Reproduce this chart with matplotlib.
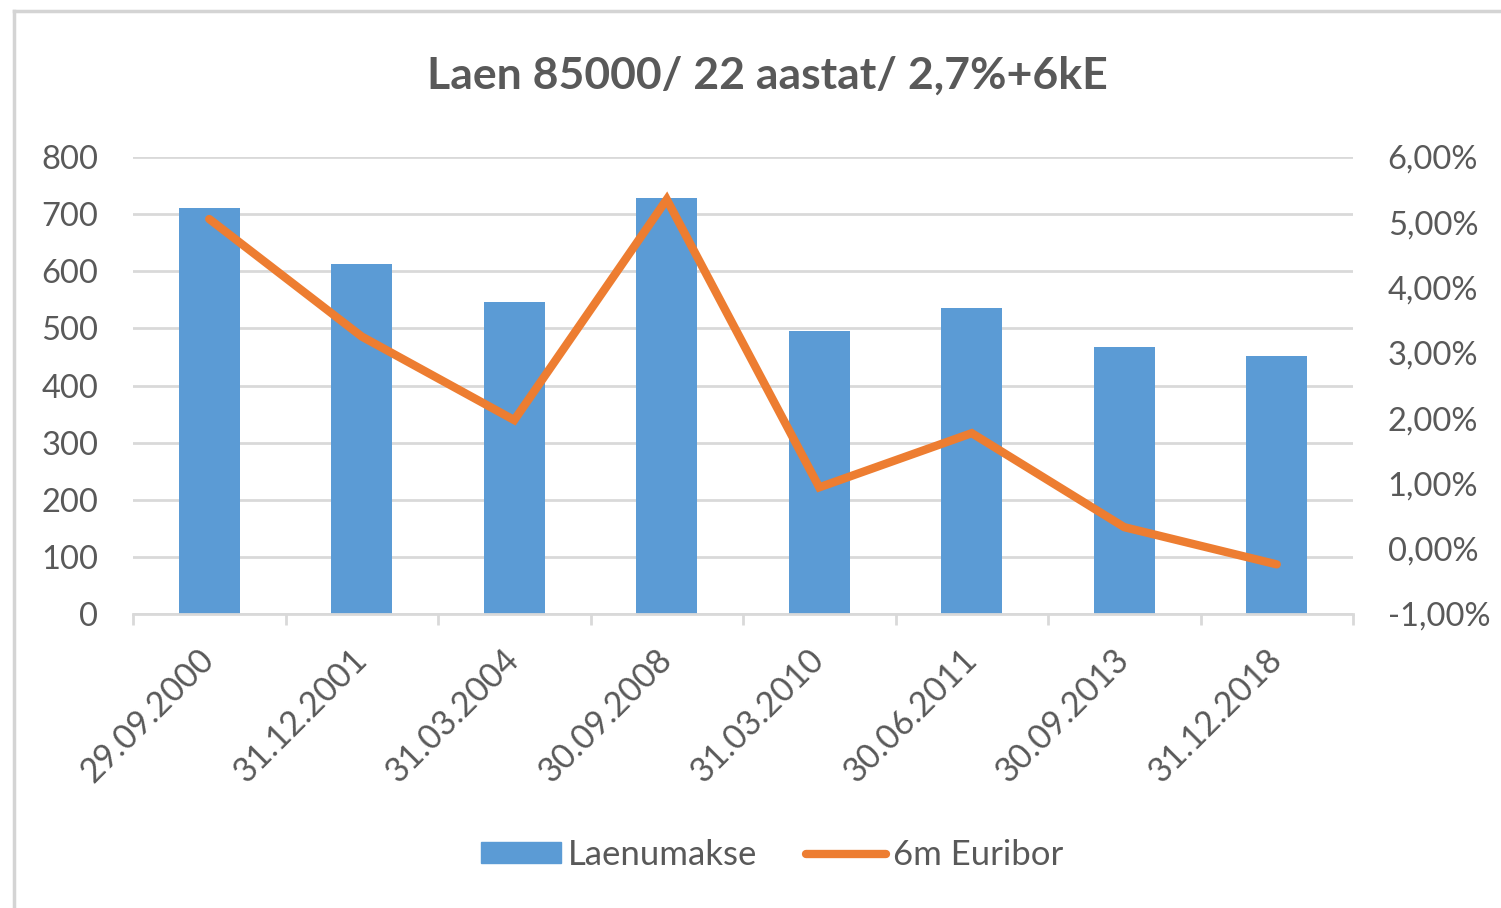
import matplotlib.pyplot as plt
from matplotlib.lines import Line2D
from matplotlib.patches import Patch
from matplotlib.ticker import FuncFormatter, FixedLocator

plt.rcParams['font.family'] = ['Lato', 'DejaVu Sans']

# data
dates = ['29.09.2000', '31.12.2001', '31.03.2004', '30.09.2008',
         '31.03.2010', '30.06.2011', '30.09.2013', '31.12.2018']
payment = [711, 613, 546, 729, 496, 535, 468, 451]
euribor = [5.05, 3.25, 1.97, 5.35, 0.94, 1.77, 0.33, -0.24]

blue = '#5B9BD5'
orange = '#ED7D31'
grid_col = '#D9D9D9'
text_col = '#595959'

fig = plt.figure(figsize=(15.01, 9.08), dpi=100)
ax = fig.add_axes([133/1501, 1 - 614/908, (1353 - 133)/1501, (614 - 157)/908])
ax2 = ax.twinx()

x = list(range(len(dates)))
ax.bar(x, payment, width=0.4, color=blue, zorder=2)
ax2.plot(x, euribor, color=orange, lw=6, solid_capstyle='round',
         solid_joinstyle='miter', zorder=3)

ax.set_xlim(-0.5, len(dates) - 0.5)
ax.set_ylim(0, 800)
ax.set_yticks(range(0, 801, 100))
ax2.set_ylim(-1, 6)
ax2.set_yticks(range(-1, 7))
ax2.yaxis.set_major_formatter(FuncFormatter(lambda v, p: f'{v:.2f}%'.replace('.', ',')))

ax.grid(axis='y', color=grid_col, lw=2, zorder=0)
ax.set_axisbelow(True)

for a in (ax, ax2):
    for s in a.spines.values():
        s.set_visible(False)
ax.spines['bottom'].set_visible(True)
ax.spines['bottom'].set_color(grid_col)
ax.spines['bottom'].set_linewidth(2)

# category labels, tick marks between categories
ax.set_xticks(x)
ax.set_xticklabels(dates, rotation=45, ha='right', va='center', rotation_mode='anchor')
ax.tick_params(axis='x', which='major', length=0, pad=29, labelsize=24.5, labelcolor=text_col)
ax.xaxis.set_minor_locator(FixedLocator([i - 0.5 for i in range(len(dates) + 1)]))
ax.tick_params(axis='x', which='minor', length=8, width=2, color=grid_col)

ax.tick_params(axis='y', length=0, pad=25, labelsize=23.5, labelcolor=text_col)
ax2.tick_params(axis='y', length=0, pad=25, labelsize=23.5, labelcolor=text_col)

fig.text(767/1501, 1 - 76/908, 'Laen 85000/ 22 aastat/ 2,7%+6kE', ha='center', va='center',
         fontsize=32, fontweight='bold', color=text_col)

handles = [Patch(color=blue), Line2D([], [], color=orange, lw=6, solid_capstyle='round')]
fig.legend(handles, ['Laenumakse', '6m Euribor'], loc='center', bbox_to_anchor=(772/1501, 1 - 855/908),
           ncol=2, frameon=False, fontsize=25, labelcolor=text_col, handlelength=2.3,
           handleheight=0.55, handletextpad=0.2, columnspacing=1.4)

# light frame of the chart area
fig.add_artist(Line2D([14/1501, 14/1501], [0, 1 - 11/908], color='#D4D4D4', lw=2.5))
fig.add_artist(Line2D([14/1501, 1], [1 - 11/908, 1 - 11/908], color='#D4D4D4', lw=2.5))

fig.savefig('out.png', dpi=100, facecolor='white')
